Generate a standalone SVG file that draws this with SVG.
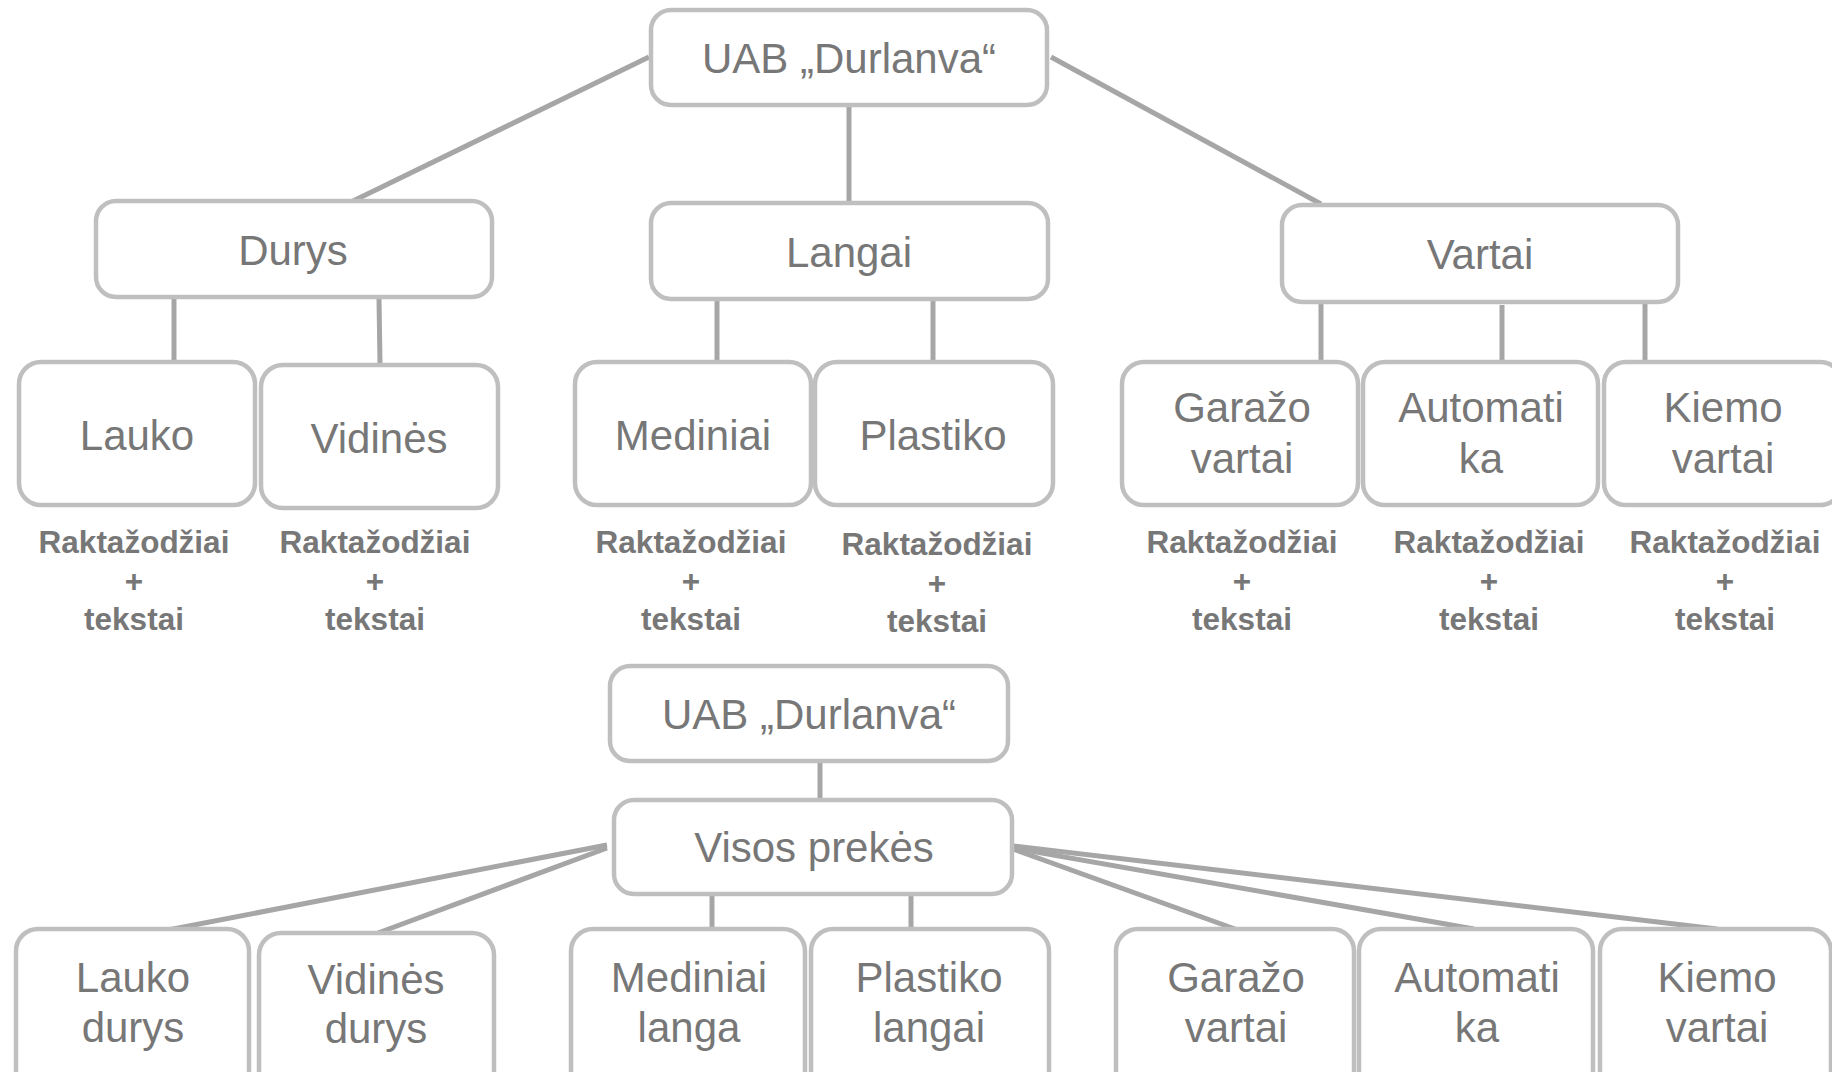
<svg xmlns="http://www.w3.org/2000/svg" width="1832" height="1072" viewBox="0 0 1832 1072">
<style>
.box{fill:#ffffff;stroke:#bfbfbf;stroke-width:4.5}
.t{font-family:"Liberation Sans",Arial,sans-serif;font-size:42px;fill:#777777;text-anchor:middle}
.k{font-family:"Liberation Sans",Arial,sans-serif;font-size:31.5px;font-weight:bold;fill:#777777;text-anchor:middle}
.c line{stroke:#a6a6a6;stroke-width:5;fill:none}
</style>
<rect width="1832" height="1072" fill="#ffffff"/>
<g class="c" id="connectors">
<line x1="649" y1="57" x2="351" y2="202"/>
<line x1="849" y1="106" x2="849" y2="202"/>
<line x1="1051" y1="57" x2="1321" y2="204"/>
<line x1="174" y1="298" x2="174" y2="362"/>
<line x1="379" y1="298" x2="380" y2="364"/>
<line x1="717" y1="300" x2="717" y2="362"/>
<line x1="933" y1="300" x2="933" y2="362"/>
<line x1="1321" y1="303" x2="1321" y2="362"/>
<line x1="1502" y1="305" x2="1502" y2="362"/>
<line x1="1645" y1="298" x2="1645" y2="362"/>
<line x1="820" y1="762" x2="820" y2="800"/>
<line x1="607" y1="845" x2="168" y2="930"/>
<line x1="607" y1="848" x2="378" y2="933"/>
<line x1="712" y1="888" x2="712" y2="929"/>
<line x1="911" y1="888" x2="911" y2="929"/>
<line x1="1013" y1="849" x2="1235" y2="929"/>
<line x1="1013" y1="848" x2="1474" y2="929"/>
<line x1="1013" y1="846" x2="1717" y2="929"/>
</g>
<g id="root1"><rect class="box" x="651" y="10" width="396" height="95" rx="20"/><text class="t" x="849" y="73">UAB „Durlanva“</text></g>
<g id="durys"><rect class="box" x="96" y="201" width="396" height="96" rx="20"/><text class="t" x="293" y="265">Durys</text></g>
<g id="langai"><rect class="box" x="651" y="203" width="397" height="96" rx="20"/><text class="t" x="849" y="267">Langai</text></g>
<g id="vartai"><rect class="box" x="1282" y="205" width="396" height="97" rx="20"/><text class="t" x="1480" y="269">Vartai</text></g>
<g id="lauko"><rect class="box" x="19" y="362" width="236" height="143" rx="22"/><text class="t" x="137" y="450">Lauko</text></g>
<g id="vidines"><rect class="box" x="261" y="365" width="237" height="143" rx="22"/><text class="t" x="379" y="453">Vidinės</text></g>
<g id="mediniai"><rect class="box" x="575" y="362" width="236" height="143" rx="22"/><text class="t" x="693" y="450">Mediniai</text></g>
<g id="plastiko"><rect class="box" x="815" y="362" width="238" height="143" rx="22"/><text class="t" x="933" y="450">Plastiko</text></g>
<g id="garazo"><rect class="box" x="1122" y="362" width="236" height="143" rx="22"/><text class="t" x="1242" y="422">Garažo</text><text class="t" x="1242" y="473">vartai</text></g>
<g id="automatika"><rect class="box" x="1363" y="362" width="235" height="143" rx="22"/><text class="t" x="1481" y="422">Automati</text><text class="t" x="1481" y="473">ka</text></g>
<g id="kiemo"><rect class="box" x="1604" y="362" width="238" height="143" rx="22"/><text class="t" x="1723" y="422">Kiemo</text><text class="t" x="1723" y="473">vartai</text></g>
<g id="kw-lauko"><text class="k" x="134" y="553">Raktažodžiai</text><text class="k" x="134" y="592">+</text><text class="k" x="134" y="630">tekstai</text></g>
<g id="kw-vidines"><text class="k" x="375" y="553">Raktažodžiai</text><text class="k" x="375" y="592">+</text><text class="k" x="375" y="630">tekstai</text></g>
<g id="kw-mediniai"><text class="k" x="691" y="553">Raktažodžiai</text><text class="k" x="691" y="592">+</text><text class="k" x="691" y="630">tekstai</text></g>
<g id="kw-plastiko"><text class="k" x="937" y="555">Raktažodžiai</text><text class="k" x="937" y="594">+</text><text class="k" x="937" y="632">tekstai</text></g>
<g id="kw-garazo"><text class="k" x="1242" y="553">Raktažodžiai</text><text class="k" x="1242" y="592">+</text><text class="k" x="1242" y="630">tekstai</text></g>
<g id="kw-automatika"><text class="k" x="1489" y="553">Raktažodžiai</text><text class="k" x="1489" y="592">+</text><text class="k" x="1489" y="630">tekstai</text></g>
<g id="kw-kiemo"><text class="k" x="1725" y="553">Raktažodžiai</text><text class="k" x="1725" y="592">+</text><text class="k" x="1725" y="630">tekstai</text></g>
<g id="root2"><rect class="box" x="610" y="666" width="398" height="95" rx="20"/><text class="t" x="809" y="729">UAB „Durlanva“</text></g>
<g id="visos"><rect class="box" x="614" y="800" width="398" height="94" rx="20"/><text class="t" x="814" y="862">Visos prekės</text></g>
<g id="lauko-durys"><rect class="box" x="16" y="929" width="233" height="170" rx="22"/><text class="t" x="133" y="992">Lauko</text><text class="t" x="133" y="1042">durys</text></g>
<g id="vidines-durys"><rect class="box" x="259" y="933" width="235" height="170" rx="22"/><text class="t" x="376" y="994">Vidinės</text><text class="t" x="376" y="1043">durys</text></g>
<g id="mediniai-langa"><rect class="box" x="571" y="929" width="234" height="170" rx="22"/><text class="t" x="689" y="992">Mediniai</text><text class="t" x="689" y="1042">langa</text></g>
<g id="plastiko-langai"><rect class="box" x="811" y="929" width="238" height="170" rx="22"/><text class="t" x="929" y="992">Plastiko</text><text class="t" x="929" y="1042">langai</text></g>
<g id="garazo-vartai"><rect class="box" x="1116" y="929" width="238" height="170" rx="22"/><text class="t" x="1236" y="992">Garažo</text><text class="t" x="1236" y="1042">vartai</text></g>
<g id="automatika2"><rect class="box" x="1359" y="929" width="234" height="170" rx="22"/><text class="t" x="1477" y="992">Automati</text><text class="t" x="1477" y="1042">ka</text></g>
<g id="kiemo-vartai"><rect class="box" x="1600" y="929" width="231" height="170" rx="22"/><text class="t" x="1717" y="992">Kiemo</text><text class="t" x="1717" y="1042">vartai</text></g>
</svg>
